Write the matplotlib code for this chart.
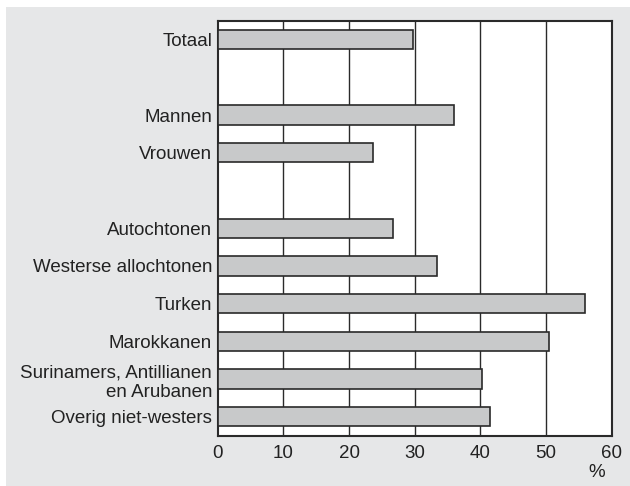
import matplotlib
matplotlib.use("Agg")
import matplotlib.pyplot as plt
from matplotlib.patches import Rectangle

plt.rcParams['font.family'] = ['Liberation Sans', 'DejaVu Sans']

categories = ["Totaal", "Mannen", "Vrouwen", "Autochtonen", "Westerse allochtonen",
              "Turken", "Marokkanen", "Surinamers, Antillianen\nen Arubanen",
              "Overig niet-westers"]
positions = [0, 2, 3, 5, 6, 7, 8, 9, 10]
values = [29.7, 36.0, 23.7, 26.7, 33.4, 56.0, 50.5, 40.3, 41.4]
xticks = [0, 10, 20, 30, 40, 50, 60]

fig = plt.figure(figsize=(6.3, 4.86), dpi=100)
fig.patch.set_facecolor("white")
bg = Rectangle((6/630, 0), 1 - 6/630, 1 - 7/486, transform=fig.transFigure,
               facecolor="#e6e7e8", edgecolor="none", zorder=-10)
fig.patches.append(bg)

ax = fig.add_axes([217.7/630, 1 - 435.7/486, (611.7 - 217.7)/630, (435.7 - 20.7)/486])
ax.set_zorder(5)
ax.set_facecolor("white")
ax.barh(positions, values, height=0.51, color="#c8c9ca", edgecolor="#2a2a2a",
        linewidth=1.2, zorder=3)
ax.set_xlim(0, 60)
ax.set_ylim(10.5, -0.5)
ax.set_xticks(xticks)
ax.set_xticklabels([str(t) for t in xticks], fontsize=13.5, color="#222222")
ax.set_yticks(positions)
ax.set_yticklabels(categories, fontsize=13.5, color="#222222", linespacing=1.2)
ax.tick_params(axis='both', length=0)
ax.tick_params(axis='y', pad=4)
ax.tick_params(axis='x', pad=7)
for t in xticks[1:-1]:
    ax.axvline(t, color="#2a2a2a", linewidth=1.0, zorder=2)
for s in ax.spines.values():
    s.set_color("#2a2a2a")
    s.set_linewidth(1.5)
fig.text(597/630, 1 - 472/486, "%", fontsize=13.5, color="#222222", ha="center", va="center",
         zorder=6)

fig.savefig("out.png", dpi=100, facecolor=fig.get_facecolor())
